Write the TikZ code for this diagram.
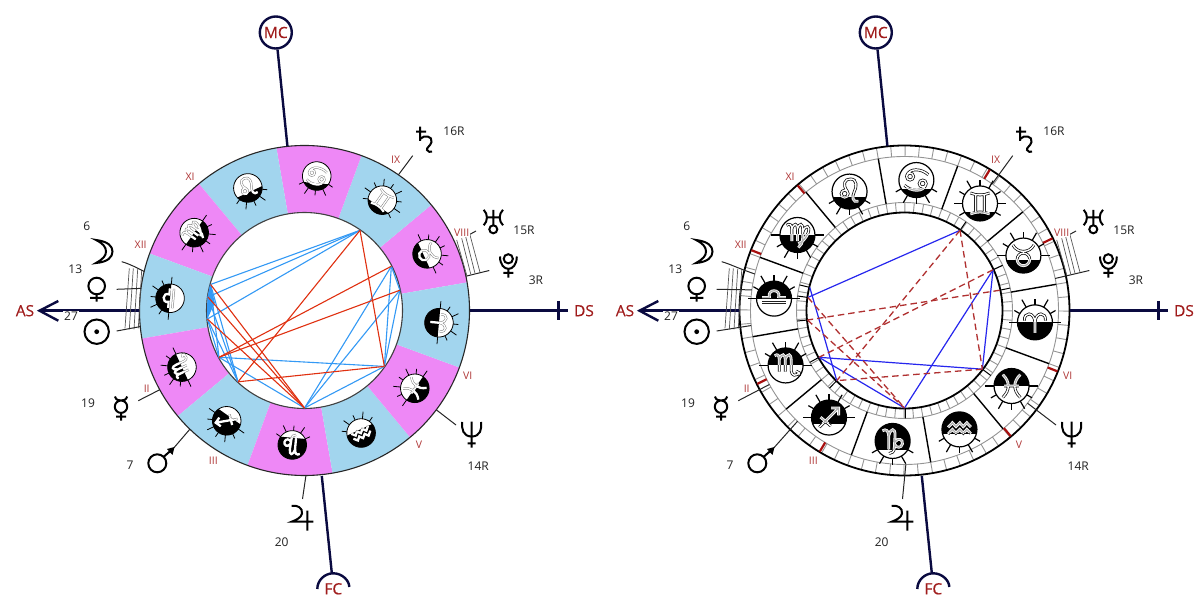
\documentclass[tikz,border=0pt]{standalone}
\usepackage{fontspec}
\setmainfont{Open Sans}
\newfontfamily\angfont[FakeBold=0.35]{Open Sans}
\definecolor{navyc}{HTML}{0A0A40}
\definecolor{darkred}{HTML}{A01C1C}
\definecolor{housered}{HTML}{B03838}
\definecolor{bluec}{HTML}{A2D5EE}
\definecolor{pinkc}{HTML}{EE88F6}
\definecolor{aspblue}{HTML}{3399F5}
\definecolor{aspred}{HTML}{E03010}
\definecolor{rblue}{HTML}{2626EE}
\definecolor{rdash}{HTML}{B03030}
\definecolor{markred}{HTML}{A81010}
\definecolor{txtc}{HTML}{222222}
\tikzset{
  gl/.style={line width=2pt,black},
  lead/.style={line width=1pt,black!85},
  hatchln/.style={line width=.7pt,black!65},
  axis/.style={line width=2.4pt,navyc},
  anglab/.style={font=\angfont\fontsize{15.5}{16}\selectfont,text=darkred,inner sep=0pt},
  houselab/.style={font=\fontsize{10.5}{11}\selectfont,text=housered,inner sep=0pt},
  deglab/.style={font=\fontsize{12}{13}\selectfont,text=txtc,inner sep=0pt},
  aspb/.style={line width=1.1pt,aspblue},
  aspr/.style={line width=1.1pt,aspred},
  rb/.style={line width=1.2pt,rblue},
  rd/.style={line width=1.3pt,rdash,dash pattern=on 6.5pt off 4pt},
  tickln/.style={line width=.9pt,black!42},
}
% sign glyphs, unit = disc radius
\def\gAries{(-.6,.1) .. controls (-.65,.6) and (-.05,.65) .. (0,0) -- (0,-.6) (.6,.1) .. controls (.65,.6) and (.05,.65) .. (0,0)}
\def\gTaurus{(0,-.22) circle[radius=.36] (-.6,.6) .. controls (-.35,.12) and (.35,.12) .. (.6,.6)}
\def\gGemini{(-.55,.6) .. controls (-.2,.45) and (.2,.45) .. (.55,.6) (-.55,-.6) .. controls (-.2,-.45) and (.2,-.45) .. (.55,-.6) (-.25,.5) -- (-.25,-.5) (.25,.5) -- (.25,-.5)}
\def\gCancer{(-.36,.2) circle[radius=.2] (.36,-.2) circle[radius=.2] (-.56,.24) .. controls (-.4,.72) and (.3,.66) .. (.68,.3) (.56,-.24) .. controls (.4,-.72) and (-.3,-.66) .. (-.68,-.3)}
\def\gLeo{(-.28,-.12) circle[radius=.2] (-.12,0) .. controls (-.42,.4) and (-.3,.72) .. (.05,.72) .. controls (.45,.72) and (.42,.25) .. (.27,0) .. controls (.12,-.3) and (.17,-.65) .. (.5,-.55)}
\def\gVirgo{(-.62,.55) .. controls (-.45,.68) and (-.32,.6) .. (-.32,.3) -- (-.32,-.35) (-.32,.35) .. controls (-.2,.72) and (0,.68) .. (0,.3) -- (0,-.35) (0,.35) .. controls (.12,.72) and (.3,.68) .. (.3,.3) -- (.3,-.15) .. controls (.3,-.45) and (.2,-.6) .. (.05,-.72) (.3,.15) .. controls (.45,.65) and (.78,.55) .. (.6,.1) .. controls (.5,-.15) and (.3,-.4) .. (.05,-.5)}
\def\gLibra{(-.68,.07) -- (-.26,.07) .. controls (-.42,.58) and (.42,.58) .. (.26,.07) -- (.68,.07) (-.68,-.22) -- (.68,-.22)}
\def\gScorpio{(-.62,.55) .. controls (-.45,.68) and (-.36,.6) .. (-.36,.3) -- (-.36,-.35) (-.36,.35) .. controls (-.22,.72) and (-.02,.68) .. (-.02,.3) -- (-.02,-.35) (-.02,.35) .. controls (.12,.72) and (.32,.68) .. (.32,.3) -- (.32,-.3) .. controls (.35,-.62) and (.6,-.62) .. (.78,-.42) (.6,-.32) -- (.78,-.42) -- (.78,-.6)}
\def\gSag{(-.55,-.55) -- (.55,.55) (.12,.55) -- (.55,.55) -- (.55,.12) (-.48,.02) -- (.1,-.48)}
\def\gCap{(-.58,.58) .. controls (-.38,.72) and (-.22,.58) .. (-.22,.25) -- (-.22,-.5) (-.22,.3) .. controls (-.1,.78) and (.14,.72) .. (.14,.35) -- (.1,-.35) .. controls (.1,-.62) and (-.05,-.72) .. (-.2,-.72) (.14,-.05) .. controls (.3,.2) and (.6,.1) .. (.56,-.16) .. controls (.52,-.42) and (.2,-.42) .. (.12,-.2)}
\def\gAqua{(-.65,.12) -- (-.4,.38) -- (-.2,.16) -- (.02,.38) -- (.22,.16) -- (.42,.38) -- (.65,.14) (-.65,-.26) -- (-.4,0) -- (-.2,-.22) -- (.02,0) -- (.22,-.22) -- (.42,0) -- (.65,-.24)}
\def\gPisces{(-.5,.65) .. controls (-.08,.25) and (-.08,-.25) .. (-.5,-.65) (.5,.65) .. controls (.08,.25) and (.08,-.25) .. (.5,-.65) (-.42,0) -- (.42,0)}
% one zodiac medallion: angle, glyph, top white(1/0), ray side(1/-1), orbit radius, disc radius, rotation, split height
\newcommand\medal[8]{%
  \begin{scope}[shift={(#1:#5)},rotate=#7]
    \fill[white] (0,0) circle[radius=#6];
    \begin{scope}
      \clip (0,0) circle[radius=#6];
      \ifnum#3=1
        \fill[black] (-#6,-#6) rectangle (#6,#6*#8);
      \else
        \fill[black] (-#6,#6*#8) rectangle (#6,#6);
      \fi
    \end{scope}
    \foreach \ra in {0,30,...,330} {
      \pgfmathtruncatemacro\keep{(#4*sin(\ra) > #4*(#8) - 0.02) ? 1 : 0}
      \pgfmathtruncatemacro\odd{mod(\ra,60)==0 ? 1 : 0}
      \ifnum\keep=1
        \ifnum\odd=1
          \draw[rayline] (\ra:#6) -- (\ra:#6*1.5);
        \else
          \draw[rayline] (\ra:#6) -- (\ra:#6*1.36);
        \fi
      \fi
    }
    \begin{scope}
      \clip (-#6,#6*#8) rectangle (#6,#6);
      \ifnum#3=1 \draw[x=#6pt,y=#6pt,whiteside] #2; \else \draw[x=#6pt,y=#6pt,blackside] #2; \fi
    \end{scope}
    \begin{scope}
      \clip (-#6,-#6) rectangle (#6,#6*#8);
      \ifnum#3=1 \draw[x=#6pt,y=#6pt,blackside] #2; \else \draw[x=#6pt,y=#6pt,whiteside] #2; \fi
    \end{scope}
    \draw[rayline] (0,0) circle[radius=#6];
  \end{scope}}
% everything outside the ring: #1 prefix, #2 x offset, #3 leader start radius
\newcommand\chartouter[3]{%
  \begin{scope}[shift={(#2+304.5,289.5)}]
    \foreach \n/\a in {mo/166.3,ve/172.3,su/185.6,me/208.7,ma/226,ju/270.5,ne/-37,pl/12,sa/55.3}
      \coordinate (#1\n1) at (\a:#3);
  \end{scope}
  \begin{scope}[shift={(#2,600)},y=-1pt]
    % angles
    \node[draw=navyc,circle,line width=2.4pt,minimum size=32pt,inner sep=0pt,anglab] (#1mc) at (275.8,32.5) {MC};
    \coordinate (#1mcend) at (287.4,146);
    \draw[axis] (#1mc) -- (#1mcend);
    \coordinate (#1dsa) at (470,310.7);
    \coordinate (#1dsb) at (568,310.7);
    \draw[axis] (#1dsa) -- (#1dsb);
    \coordinate (#1dsc) at (558.3,301);
    \coordinate (#1dsd) at (558.3,320.5);
    \draw[axis] (#1dsc) -- (#1dsd);
    \node[anglab] (#1ds) at (584,310.7) {DS};
    \coordinate (#1asa) at (139.5,310.7);
    \coordinate (#1asb) at (39.5,310.7);
    \draw[axis] (#1asa) -- (#1asb);
    \coordinate (#1asc) at (58.3,301);
    \coordinate (#1asd) at (58.3,320.7);
    \draw[axis] (#1asc) -- (#1asb) -- (#1asd);
    \node[anglab] (#1as) at (25,310.7) {AS};
    \coordinate (#1fca) at (321.8,476);
    \coordinate (#1fcb) at (331.8,573);
    \draw[axis] (#1fca) -- (#1fcb);
    \draw[axis] (317.3,589) .. controls (317.3,580.5) and (324.5,573.3) .. (333.3,573.3) .. controls (342.1,573.3) and (349.3,580.5) .. (349.3,587);
    \node[anglab] (#1fc) at (333.3,588.8) {FC};
    % hatching
    \draw[hatchln] (129.3,268.3) -- (125,328.3) (133.3,268.3) -- (129.3,329.3) (137.7,269) -- (134,329.3) (141.7,270) -- (138.3,328.3);
    \draw[hatchln] (456.7,240) -- (466.7,275) (461.7,238.3) -- (470.7,274) (465.7,236.7) -- (475,273.3) (470,235) -- (480,272.3);
    % leaders
    \draw[lead] (121.7,261.7) .. controls (130,264) and (136,267.5) .. (#1mo1);
    \draw[lead] (116.7,289.3) -- (#1ve1);
    \draw[lead] (116.7,331) -- (#1su1);
    \draw[lead] (138.3,400.7) -- (#1me1);
    \draw[lead] (174,447.7) -- (#1ma1);
    \draw[lead] (302.5,499) -- (#1ju1);
    \draw[lead] (456,425) -- (#1ne1);
    \draw[lead] (489.3,270.5) -- (#1pl1);
    \draw[lead] (412.7,155.7) -- (#1sa1);
    \draw[lead] (470,234.3) -- (476,231);
    % planets
    \draw[gl] (96,240) .. controls (108,241.5) and (112.5,246) .. (112.5,251.5) .. controls (112.5,257) and (108,262) .. (96,263) .. controls (103,259) and (106,256) .. (106,251.5) .. controls (106,247) and (103,243.5) .. (96,240) -- cycle;
    \draw[gl] (96.7,286) circle[radius=8.3pt] (96.7,294.3) -- (96.7,301.7) (90,298) -- (103.4,298);
    \draw[gl] (96.7,331.7) circle[radius=12.2pt];
    \fill (96.7,331.7) circle[radius=2.4pt];
    \draw[gl] (121,406.7) circle[radius=6.2pt] (121,412.9) -- (121,420.7) (116,416.7) -- (126,416.7) (115,396.5) .. controls (116,400) and (118,400.5) .. (121,400.5) .. controls (124,400.5) and (126,400) .. (127.2,396.5);
    \draw[gl] (157.3,463.3) circle[radius=9pt] (163.6,456.9) -- (172,449.5);
    \fill (174.5,447) -- (167,449) -- (172.5,455) -- cycle;
    \draw[gl] (291.7,506) .. controls (297,504.5) and (303,508) .. (302,513.5) .. controls (301,518) and (296,520) .. (291.7,521.7) -- (313.3,521.7) (307.3,510.7) -- (307.3,530.7);
    \draw[gl] (420,126.7) -- (420,141) (416,131.7) -- (426,131.7) (420,139) .. controls (424,134.5) and (433,136) .. (431.5,142) .. controls (430.5,146) and (426,148) .. (427,150) .. controls (428,152) and (430.5,152.5) .. (432,151.5);
    \draw[gl] (493.3,210) -- (493.3,225) (486,217.3) -- (500.7,217.3) (493.3,229.3) circle[radius=4pt] (483.7,209.8) .. controls (488,214) and (488,221) .. (483.7,225.3) (503,209.8) .. controls (498.6,214) and (498.6,221) .. (503,225.3);
    \draw[gl] (508.3,258.8) circle[radius=4.6pt] (500,256.5) .. controls (500,273) and (516.8,273) .. (516.8,256.5) (508.3,268.3) -- (508.3,277.7) (503.3,272.8) -- (513.3,272.8);
    \draw[gl] (471.7,421.7) -- (471.7,447.7) (467.7,443.3) -- (475.7,443.3) (462.2,422) .. controls (461.5,429) and (463,436.5) .. (471.7,436.5) .. controls (480.4,436.5) and (481.9,429) .. (481.2,422);
    % house numerals
    \node[houselab] (#1h12) at (140.7,245) {XII};
    \node[houselab] (#1h11) at (190,176.7) {XI};
    \node[houselab] (#1h9) at (395.7,160) {IX};
    \node[houselab,fill=white,inner sep=.5pt] (#1h8) at (461.7,232.3) {VIII};
    \node[houselab] (#1h6) at (467.7,375.7) {VI};
    \node[houselab] (#1h5) at (419,444.3) {V};
    \node[houselab] (#1h3) at (213.3,461) {III};
    \node[houselab] (#1h2) at (146.7,389) {II};
    % degrees
    \node[deglab] (#1d1) at (86.7,226.7) {6};
    \node[deglab] (#1d2) at (75.3,269) {13};
    \node[deglab,fill=white,inner sep=1pt] (#1d3) at (71,316) {27};
    \node[deglab] (#1d4) at (88,403) {19};
    \node[deglab] (#1d5) at (130,465) {7};
    \node[deglab] (#1d6) at (281.7,542.7) {20};
    \node[deglab] (#1d7) at (478.3,465.7) {14R};
    \node[deglab] (#1d8) at (536,280) {3R};
    \node[deglab] (#1d9) at (524,230) {15R};
    \node[deglab] (#1d10) at (454,131) {16R};
  \end{scope}}
\begin{document}
\begin{tikzpicture}[x=1pt,y=1pt]
\useasboundingbox (0,0) rectangle (1200,600);
\fill[white] (0,0) rectangle (1200,600);
% ---------- left wheel ----------
\begin{scope}[shift={(304.5,289.5)},
  whiteside/.style={draw=black!50,line width=.5pt,double=white,double distance=1.3pt},
  blackside/.style={draw=white,line width=.6pt,double=white,double distance=1.1pt},
  rayline/.style={line width=.8pt,black}]
  \foreach \a/\colr in {9.8/pinkc,39.8/bluec,69.8/pinkc,99.8/bluec,129.8/pinkc,159.8/bluec,189.8/pinkc,219.8/bluec,249.8/pinkc,279.8/bluec,309.8/pinkc,339.8/bluec}
    \fill[\colr] (\a:98) arc[start angle=\a,end angle=\a+30,radius=98] -- (\a+30:165) arc[start angle=\a+30,end angle=\a,radius=165] -- cycle;
  \draw[line width=1.1pt,black!85] (0,0) circle[radius=165];
  \draw[line width=1.1pt,black!75] (0,0) circle[radius=98];
  \foreach \a/\gly/\tw/\rs/\sp in {-5.2/\gAries/1/1/0,24.8/\gTaurus/1/1/-.25,54.8/\gGemini/1/1/-.5,84.8/\gCancer/1/-1/-.5,114.8/\gLeo/1/-1/-.3,144.8/\gVirgo/1/-1/0,174.8/\gLibra/0/1/0,204.8/\gScorpio/0/1/0,234.8/\gSag/0/1/-.35,264.8/\gCap/0/-1/-.5,294.8/\gAqua/0/-1/-.25,324.8/\gPisces/0/-1/0}
    {\medal{\a}{\gly}{\tw}{\rs}{135}{14.3}{\a-90}{\sp}}
  \foreach \n/\a in {mo/164.5,ve/172,su/185,me/208.7,ma/227,ju/270,ne/-35,pl/12,ur/27,sa/55.3}
    \coordinate (L\n) at (\a:97.5);
  \coordinate (Lwedge) at (175:90);
  \fill[aspblue] (Lmo) -- (Lwedge) -- (Lsu) -- (Lve) -- cycle;
  \foreach \p/\q in {sa/mo,sa/ve,sa/su,mo/ve,ve/su,mo/su,mo/ma,ve/ma,su/ma,su/me,mo/me,me/ju,me/ne,ur/ju,pl/ju,ne/ju,ur/pl,ur/ne,pl/ne}
    \draw[aspb] (L\p) -- (L\q);
  \foreach \p/\q in {sa/ma,sa/ne,ur/me,pl/me,ne/ma,mo/ju,ve/ju,su/ju}
    \draw[aspr] (L\p) -- (L\q);
\end{scope}
\chartouter{L}{0}{165}
% ---------- right wheel ----------
\begin{scope}[shift={(904.5,289.5)},
  whiteside/.style={draw=black,line width=.7pt,double=white,double distance=1.4pt},
  blackside/.style={draw=white,line width=.8pt,double=black!30,double distance=1.2pt},
  rayline/.style={line width=1.2pt,black}]
  \foreach \t in {0,5,...,355} {
    \draw[tickln] (9.8+\t:98) -- (9.8+\t:108);
    \draw[tickln] (9.8+\t:154) -- (9.8+\t:165);
  }
  \draw[tickln] (0,0) circle[radius=108];
  \draw[tickln] (0,0) circle[radius=154];
  \foreach \a in {9.8,39.8,69.8,99.8,129.8,159.8,189.8,219.8,249.8,279.8,309.8,339.8}
    \draw[line width=1.4pt,black] (\a:108) -- (\a:154);
  \draw[line width=1.8pt,black] (0,0) circle[radius=165];
  \draw[line width=1.8pt,black] (0,0) circle[radius=98];
  \foreach \a in {166.3,172.3,185.6,208.7,226,270.5,-37,12,24.7,55.3}
    \draw[line width=1pt,black] (\a:98) -- (\a:108);
  \foreach \a in {158.5,130.5,58.8,26,-21.7,-49.8,239,206.5}
    \draw[line width=2.2pt,markred] (\a:154) -- (\a:164.5);
  \foreach \a/\gly/\tw/\rs/\sp in {-5.2/\gAries/1/1/0,24.8/\gTaurus/1/1/-.25,54.8/\gGemini/1/1/-.5,84.8/\gCancer/1/-1/-.5,114.8/\gLeo/1/-1/-.3,144.8/\gVirgo/1/-1/0,174.8/\gLibra/0/1/0,204.8/\gScorpio/0/1/0,234.8/\gSag/0/1/-.35,264.8/\gCap/0/-1/-.5,294.8/\gAqua/0/-1/-.25,324.8/\gPisces/0/-1/0}
    {\medal{\a}{\gly}{\tw}{\rs}{131}{17.5}{0}{\sp}}
  \foreach \n/\a in {mo/166.3,ve/172.3,su/185.6,me/208.7,ma/226,ju/270,ne/-37,pl/12,ur/24.7,sa/55.3}
    \coordinate (R\n) at (\a:97.5);
  \foreach \p/\q in {sa/ve,mo/ma,me/ju,me/ne,ur/ju,ur/ne}
    \draw[rb] (R\p) -- (R\q);
  \foreach \p/\q in {sa/ma,sa/ne,ur/me,pl/su,ne/ma,ve/ju,su/ju}
    \draw[rd] (R\p) -- (R\q);
\end{scope}
\chartouter{R}{600}{154}
\end{tikzpicture}
\end{document}
